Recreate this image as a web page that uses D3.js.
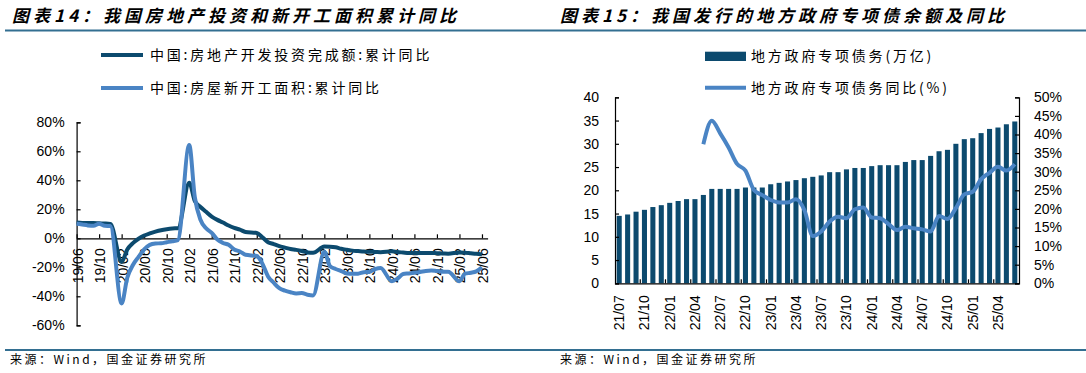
<!DOCTYPE html>
<html>
<head>
<meta charset="utf-8">
<script src="https://cdn.jsdelivr.net/npm/d3@7"></script>
<style>
  body { margin: 0; background: #fff; }
  svg text { font-family: "Liberation Sans", Arial, sans-serif; fill: #000; }
  svg .cjk { font-family: "Noto Sans CJK SC", sans-serif; }
  .title { font-size: 17px; font-weight: bold; font-style: italic; letter-spacing: 4px; }
  .legend { font-size: 14px; letter-spacing: 2.8px; }
  .source { font-size: 12px; letter-spacing: 2.5px; }
  .tick text { font-size: 14px; }
</style>
</head>
<body>
<svg id="chart" width="1086" height="373"></svg>
<script>
// ---- left chart data: monthly cumulative yoy (%), Jan is not published ----
const leftMonths = [
  "19/06","19/07","19/08","19/09","19/10","19/11","19/12",
  "20/02","20/03","20/04","20/05","20/06","20/07","20/08","20/09","20/10","20/11","20/12",
  "21/02","21/03","21/04","21/05","21/06","21/07","21/08","21/09","21/10","21/11","21/12",
  "22/02","22/03","22/04","22/05","22/06","22/07","22/08","22/09","22/10","22/11","22/12",
  "23/02","23/03","23/04","23/05","23/06","23/07","23/08","23/09","23/10","23/11","23/12",
  "24/02","24/03","24/04","24/05","24/06","24/07","24/08","24/09","24/10","24/11","24/12",
  "25/02","25/03","25/04","25/05","25/06"
];
const investYoy = [
  10.9,10.6,10.5,10.5,10.3,10.2,9.9,
  -16.3,-7.7,-3.3,-0.3,1.9,3.4,4.6,5.6,6.3,6.8,7.0,
  38.3,25.6,21.6,18.3,15.0,12.7,10.9,8.8,7.2,6.0,4.4,
  3.7,0.7,-2.7,-4.0,-5.4,-6.4,-7.4,-8.0,-8.8,-9.8,-10.0,
  -5.7,-5.8,-6.2,-7.2,-7.9,-8.5,-8.8,-9.1,-9.3,-9.4,-9.6,
  -9.0,-9.5,-9.8,-10.1,-10.1,-10.2,-10.2,-10.1,-10.3,-10.4,-10.6,
  -9.8,-9.9,-10.3,-10.7,-11.2
];
const startsYoy = [
  10.1,9.5,8.9,8.6,10.0,8.6,8.5,
  -44.9,-27.2,-18.4,-12.8,-7.6,-4.5,-3.6,-3.4,-2.7,-2.0,-1.2,
  64.3,28.2,12.8,6.9,3.8,-0.9,-3.2,-4.5,-7.7,-9.1,-11.4,
  -12.2,-17.5,-26.3,-30.6,-34.4,-36.1,-37.2,-38.0,-37.8,-38.9,-39.4,
  -9.4,-19.2,-21.2,-22.6,-24.3,-24.5,-24.4,-23.4,-23.2,-21.2,-20.4,
  -29.7,-27.8,-24.6,-24.2,-23.7,-23.2,-22.5,-22.2,-22.6,-23.0,-23.0,
  -29.6,-24.4,-23.8,-22.8,-20.0
];
const leftTicks = ["19/06","19/10","20/02","20/06","20/10","21/02","21/06","21/10","22/02",
  "22/06","22/10","23/02","23/06","23/10","24/02","24/06","24/10","25/02","25/06"];
const leftYTicks = [-60,-40,-20,0,20,40,60,80];

// ---- right chart data ----
const rightMonths = [
  "21/07","21/08","21/09","21/10","21/11","21/12",
  "22/01","22/02","22/03","22/04","22/05","22/06","22/07","22/08","22/09","22/10","22/11","22/12",
  "23/01","23/02","23/03","23/04","23/05","23/06","23/07","23/08","23/09","23/10","23/11","23/12",
  "24/01","24/02","24/03","24/04","24/05","24/06","24/07","24/08","24/09","24/10","24/11","24/12",
  "25/01","25/02","25/03","25/04","25/05","25/06"
];
const debtBalance = [
  14.5,14.8,15.4,15.8,16.4,16.8,
  17.3,17.7,18.1,18.1,19.0,20.3,20.3,20.3,20.3,20.6,20.6,20.6,
  21.3,21.6,21.9,22.2,22.6,22.9,23.2,23.9,23.9,24.5,24.8,24.8,
  25.2,25.4,25.4,25.4,26.1,26.5,26.5,27.4,28.4,28.7,30.0,31.0,
  31.2,32.3,33.2,33.5,34.2,34.8
];
const debtYoy = [
  null,null,null,null,null,null,
  null,null,null,null,37.4,43.7,40.3,36.5,32.1,30.3,25.1,23.7,
  22.4,21.7,21.7,22.6,19.7,12.7,13.9,16.6,17.9,17.5,19.9,20.4,
  17.7,17.5,15.9,14.3,15.2,14.8,14.5,13.9,18.1,17.3,20.2,23.9,
  24.6,28.0,29.7,31.3,30.3,32.0
];
const rightTicks = ["21/07","21/10","22/01","22/04","22/07","22/10","23/01","23/04",
  "23/07","23/10","24/01","24/04","24/07","24/10","25/01","25/04"];
const rightYTicks = [0,5,10,15,20,25,30,35,40];
const rightY2Ticks = [0,5,10,15,20,25,30,35,40,45,50];

const DARK = "#0c4a6e", LIGHT = "#4a84c4", RULE = "#336f91";

const svg = d3.select("#chart");
const monthIndex = s => (+s.slice(0, 2)) * 12 + (+s.slice(3, 5)) - 1;

// page frame: rules, titles, sources
[30.5, 350].forEach(y => {
  svg.append("line").attr("x1", 5).attr("x2", 1086).attr("y1", y).attr("y2", y)
    .attr("stroke", RULE).attr("stroke-width", 2);
});
svg.append("text").attr("class", "cjk title").attr("x", 12).attr("y", 22)
  .text("图表14：我国房地产投资和新开工面积累计同比");
svg.append("text").attr("class", "cjk title").attr("x", 560).attr("y", 22)
  .text("图表15：我国发行的地方政府专项债余额及同比");
svg.append("text").attr("class", "cjk source").attr("x", 10).attr("y", 364).text("来源：Wind，国金证券研究所");
svg.append("text").attr("class", "cjk source").attr("x", 560).attr("y", 364).text("来源：Wind，国金证券研究所");

// ================= left chart =================
const lx = d3.scaleLinear()
  .domain([monthIndex("19/06"), monthIndex("25/06") + 1])
  .range([76.6, 487.6]);
const ly = d3.scaleLinear().domain([-60, 80]).range([325.3, 122.3]);

svg.append("g")
  .attr("transform", `translate(${lx.range()[0]},0)`)
  .call(d3.axisLeft(ly).tickValues(leftYTicks).tickSize(-4).tickPadding(12).tickFormat(d => d + "%"))
  .call(g => g.selectAll("path,line").attr("stroke", "#000").attr("stroke-width", 1.2));

svg.append("g")
  .attr("transform", `translate(0,${ly(0)})`)
  .call(d3.axisBottom(lx).tickValues(leftTicks.map(monthIndex)).tickSizeInner(-4).tickSizeOuter(0).tickFormat(""))
  .call(g => g.selectAll("path,line").attr("stroke", "#000").attr("stroke-width", 1.2));

svg.append("g").selectAll("text")
  .data(leftTicks)
  .join("text")
  .attr("transform", d => `translate(${lx(monthIndex(d)) + 1},${ly(0) + 10}) rotate(-90)`)
  .attr("text-anchor", "end")
  .attr("dy", "0.35em")
  .style("font-size", "14px")
  .text(d => d);

const leftLine = vals => d3.line()
  .x((d, i) => lx(monthIndex(leftMonths[i])))
  .y(d => ly(d))
  .curve(d3.curveMonotoneX)(vals);

svg.append("path").attr("d", leftLine(investYoy))
  .attr("fill", "none").attr("stroke", DARK).attr("stroke-width", 4).attr("stroke-linejoin", "round");
svg.append("path").attr("d", leftLine(startsYoy))
  .attr("fill", "none").attr("stroke", LIGHT).attr("stroke-width", 4).attr("stroke-linejoin", "round");

// left legend
const leftLegend = [
  { label: "中国:房地产开发投资完成额:累计同比", color: DARK, y: 55 },
  { label: "中国:房屋新开工面积:累计同比", color: LIGHT, y: 88 }
];
leftLegend.forEach(d => {
  svg.append("line").attr("x1", 101).attr("x2", 143).attr("y1", d.y).attr("y2", d.y)
    .attr("stroke", d.color).attr("stroke-width", 4);
  svg.append("text").attr("class", "cjk legend").attr("x", 150).attr("y", d.y).attr("dy", "0.35em").text(d.label);
});

// ================= right chart =================
const rx = d3.scaleBand().domain(rightMonths).range([615, 1019]).paddingInner(0.4).paddingOuter(0.2);
const ry = d3.scaleLinear().domain([0, 40]).range([283.3, 97.3]);
const ry2 = d3.scaleLinear().domain([0, 50]).range([283.3, 97.3]);

svg.append("g").selectAll("rect")
  .data(debtBalance)
  .join("rect")
  .attr("x", (d, i) => rx(rightMonths[i]))
  .attr("width", rx.bandwidth())
  .attr("y", d => ry(d))
  .attr("height", d => ry(0) - ry(d))
  .attr("fill", DARK);

svg.append("path")
  .attr("d", d3.line()
    .defined(d => d != null)
    .x((d, i) => rx(rightMonths[i]) + rx.bandwidth() / 2)
    .y(d => ry2(d))
    .curve(d3.curveMonotoneX)(debtYoy))
  .attr("fill", "none").attr("stroke", LIGHT).attr("stroke-width", 4).attr("stroke-linejoin", "round");

svg.append("g")
  .attr("transform", `translate(615,0)`)
  .call(d3.axisLeft(ry).tickValues(rightYTicks).tickSize(-4).tickPadding(16))
  .call(g => g.selectAll("path,line").attr("stroke", "#000").attr("stroke-width", 1.2));

svg.append("g")
  .attr("transform", `translate(1019,0)`)
  .call(d3.axisRight(ry2).tickValues(rightY2Ticks).tickSize(-4).tickPadding(15).tickFormat(d => d + "%"))
  .call(g => g.selectAll("path,line").attr("stroke", "#000").attr("stroke-width", 1.2));

const step = rx.step();
svg.append("g")
  .attr("transform", `translate(0,${ry(0)})`)
  .call(d3.axisBottom(rx).tickValues([]).tickSizeOuter(0))
  .call(g => g.selectAll("path").attr("stroke", "#000").attr("stroke-width", 1.2));
svg.append("g").selectAll("line")
  .data(rightTicks.slice(1))
  .join("line")
  .attr("x1", d => rx(d) - step * rx.paddingInner() / 2)
  .attr("x2", d => rx(d) - step * rx.paddingInner() / 2)
  .attr("y1", ry(0)).attr("y2", ry(0) - 4)
  .attr("stroke", "#000").attr("stroke-width", 1.2);

svg.append("g").selectAll("text")
  .data(rightTicks)
  .join("text")
  .attr("transform", d => `translate(${rx(d) + rx.bandwidth() / 2},${ry(0) + 12}) rotate(-90)`)
  .attr("text-anchor", "end")
  .attr("dy", "0.35em")
  .style("font-size", "14px")
  .text(d => d);

// right legend
svg.append("rect").attr("x", 705).attr("y", 51.7).attr("width", 41).attr("height", 9.3).attr("fill", DARK);
svg.append("text").attr("class", "cjk legend").attr("x", 751).attr("y", 56.3).attr("dy", "0.35em")
  .text("地方政府专项债务(万亿)");
svg.append("line").attr("x1", 705).attr("x2", 746).attr("y1", 87.7).attr("y2", 87.7)
  .attr("stroke", LIGHT).attr("stroke-width", 4);
svg.append("text").attr("class", "cjk legend").attr("x", 751).attr("y", 87.7).attr("dy", "0.35em")
  .text("地方政府专项债务同比(%)");
</script>
</body>
</html>
